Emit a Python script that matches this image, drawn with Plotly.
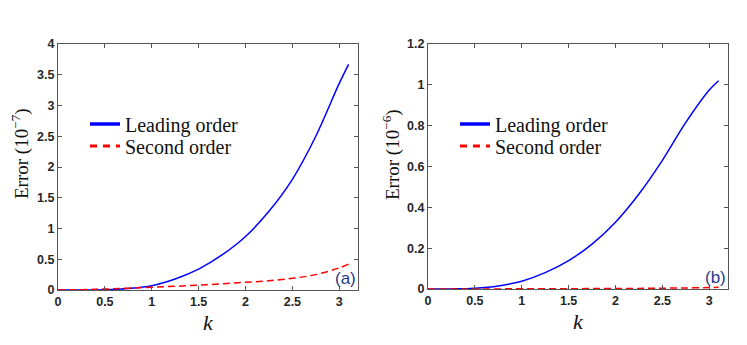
import plotly.graph_objects as go
from plotly.subplots import make_subplots

# values (a: x1e-7, b: x1e-6)
k = [0, 0.25, 0.5, 0.75, 1.0, 1.25, 1.5, 1.75, 2.0, 2.25, 2.5, 2.75, 3.0, 3.1]
lead_a = [0, 0.001, 0.006, 0.025, 0.07, 0.18, 0.34, 0.57, 0.87, 1.28, 1.80, 2.50, 3.36, 3.67]
second_a = [0, 0.006, 0.016, 0.03, 0.045, 0.06, 0.08, 0.10, 0.125, 0.15, 0.19, 0.25, 0.36, 0.42]
lead_b = [0, 0.0005, 0.004, 0.015, 0.038, 0.08, 0.139, 0.22, 0.327, 0.465, 0.63, 0.816, 0.975, 1.02]
second_b = [0, 0, 0, 0.0005, 0.001, 0.001, 0.0015, 0.002, 0.002, 0.003, 0.004, 0.005, 0.007, 0.009]

names = ["Leading order", "Second order"]
ytitles = ["Error (10<sup>−7</sup>)", "Error (10<sup>−6</sup>)"]
panel_tags = ["(a)", "(b)"]

BLUE = "#0000ff"
RED = "#ff0000"
SERIF = "Liberation Serif"
W, H = 747, 345
OFF = 8  # page body margin shifts the figure by this much


def px_x(p):
    return (p - OFF) / W


def px_y(p):
    return 1 - (p - OFF) / H


fig = make_subplots(rows=1, cols=2)

panels = [(lead_a, second_a), (lead_b, second_b)]
legend_x = [85, 455]          # px, left edge of legend box per panel
legend_y = [124, 146]         # px, centre of each legend row
ytitle_x = [21, 392]
legend_layout = {}
n = 0
for i, (lead, sec) in enumerate(panels):
    col = i + 1
    fig.add_trace(go.Scatter(x=k, y=lead, mode="lines", line=dict(color=BLUE, width=1.5, shape="spline"),
                             showlegend=False), row=1, col=col)
    fig.add_trace(go.Scatter(x=k, y=sec, mode="lines", line=dict(color=RED, width=1.5, dash="7px,4px", shape="spline"),
                             showlegend=False), row=1, col=col)
    # legend-only entries, thicker like the original legend; one legend per row
    styles = [dict(color=BLUE, width=3.5), dict(color=RED, width=3, dash="7px,6px")]
    for j in range(2):
        n += 1
        key = "legend" if n == 1 else f"legend{n}"
        fig.add_trace(go.Scatter(x=[None], y=[None], mode="lines", name=names[j], line=styles[j],
                                 legend=key), row=1, col=col)
        legend_layout[key] = dict(x=px_x(legend_x[i]), y=px_y(legend_y[j]), xanchor="left", yanchor="middle",
                                  bgcolor="rgba(0,0,0,0)", borderwidth=0,
                                  font=dict(family=SERIF, size=20, color="#111"))
    # y title as a rotated annotation so it can sit closer to the edge
    fig.add_annotation(text=ytitles[i], xref="paper", yref="paper", x=px_x(ytitle_x[i]), y=px_y(154),
                       xanchor="center", yanchor="middle", textangle=-90, showarrow=False, borderpad=0,
                       font=dict(family=SERIF, size=19, color="#111"))

axis_common = dict(showline=True, linecolor="#555555", linewidth=1, mirror="allticks", ticks="inside",
                   ticklen=4, tickcolor="#555555", showgrid=False, zeroline=False, automargin=False,
                   tickfont=dict(family="Arial", size=12.5, color="#262626", weight="bold"))

fig.update_xaxes(axis_common, range=[0, 3.2], dtick=0.5, tick0=0,
                 title=dict(text="<i>k</i>", font=dict(family=SERIF, size=22, color="#111"), standoff=6))
fig.update_yaxes(axis_common)

fig.update_layout(
    xaxis=dict(domain=[px_x(58), px_x(358)]),
    xaxis2=dict(domain=[px_x(428), px_x(728)]),
    yaxis=dict(domain=[px_y(290), px_y(44)], range=[0, 4], dtick=0.5),
    yaxis2=dict(domain=[px_y(289), px_y(44)], range=[0, 1.2], dtick=0.2),
    width=W, height=H,
    margin=dict(l=0, r=0, t=0, b=0),
    plot_bgcolor="white", paper_bgcolor="white",
    **legend_layout,
)

for i, tag in enumerate(panel_tags):
    xr = "x domain" if i == 0 else "x2 domain"
    yr = "y domain" if i == 0 else "y2 domain"
    fig.add_annotation(text=tag, xref=xr, yref=yr, x=1.0, y=0.0, xanchor="right", yanchor="bottom",
                       showarrow=False, font=dict(family="Arial", size=17, color="#1f3a8a"))

fig.write_html("out.html")
